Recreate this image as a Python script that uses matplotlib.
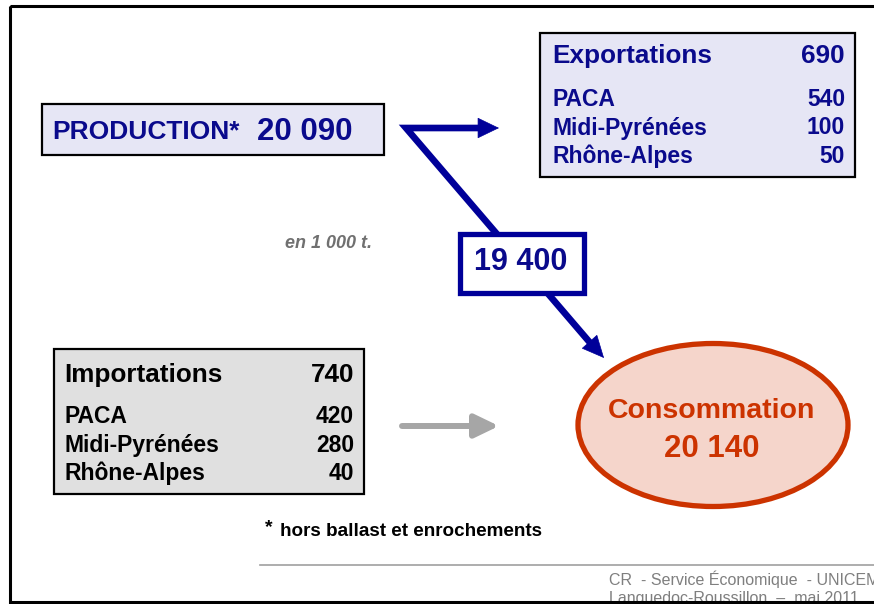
import matplotlib
matplotlib.use("Agg")
import matplotlib.pyplot as plt
from matplotlib.patches import Rectangle, Ellipse, FancyArrowPatch
from matplotlib.lines import Line2D

plt.rcParams['font.family'] = ['Liberation Sans', 'DejaVu Sans']

# ---- data (en 1 000 t.) ----
production = 20090
flow_internal = 19400
consumption = 20140
export_total = 690
export_regions = ["PACA", "Midi-Pyrénées", "Rhône-Alpes"]
export_values = [540, 100, 50]
import_total = 740
import_regions = ["PACA", "Midi-Pyrénées", "Rhône-Alpes"]
import_values = [420, 280, 40]


def fmt(v):
    return f"{v:,}".replace(",", " ")


NAVY = "#000099"
TXT_BLUE = "#0A0A8C"
RED = "#CC3300"

fig = plt.figure(figsize=(8.74, 6.04), dpi=100)
ax = fig.add_axes([0, 0, 1, 1])
ax.set_xlim(0, 874)
ax.set_ylim(604, 0)
ax.axis("off")

# outer frame
ax.add_patch(Rectangle((10, 6), 880, 596, fill=False, ec="black", lw=2.2, zorder=10))

# PRODUCTION box
ax.add_patch(Rectangle((42, 104), 342, 51, fc="#E6E6F5", ec="black", lw=1.6, zorder=2))
ax.text(52, 139, "PRODUCTION*", color=TXT_BLUE, fontsize=19, fontweight="bold", zorder=3)
ax.text(257, 140, fmt(production), color=TXT_BLUE, fontsize=22.5, fontweight="bold", zorder=3)

# Export box
ax.add_patch(Rectangle((540, 33), 315, 144, fc="#E6E6F5", ec="black", lw=1.6, zorder=2))
ax.text(552, 63, "Exportations", color=TXT_BLUE, fontsize=18.8, fontweight="bold", zorder=3)
ax.text(845, 63, fmt(export_total), color=TXT_BLUE, fontsize=18.8, fontweight="bold", ha="right", zorder=3)
for i, (r, v) in enumerate(zip(export_regions, export_values)):
    y = 106 + i * 28.5
    ax.text(552, y, r, color=TXT_BLUE, fontsize=16.5, fontweight="bold", zorder=3)
    ax.text(845, y, fmt(v), color=TXT_BLUE, fontsize=16.5, fontweight="bold", ha="right", zorder=3)

# Import box
ax.add_patch(Rectangle((54, 349), 310, 145, fc="#E0E0E0", ec="black", lw=1.6, zorder=2))
ax.text(64, 382, "Importations", color="black", fontsize=18.8, fontweight="bold", zorder=3)
ax.text(354, 382, fmt(import_total), color="black", fontsize=18.8, fontweight="bold", ha="right", zorder=3)
for i, (r, v) in enumerate(zip(import_regions, import_values)):
    y = 423 + i * 28.7
    ax.text(64, y, r, color="black", fontsize=16.5, fontweight="bold", zorder=3)
    ax.text(354, y, fmt(v), color="black", fontsize=16.5, fontweight="bold", ha="right", zorder=3)

# navy arrows from production
ax.add_line(Line2D([482, 406, 592, ], [128, 128, 345], color=NAVY, lw=4.8,
                   solid_joinstyle="miter", solid_capstyle="butt", zorder=4))
ax.add_patch(FancyArrowPatch((470, 128), (499, 128), arrowstyle="-|>,head_length=1.45,head_width=0.7",
                             mutation_scale=10, color=NAVY, lw=0.5, shrinkA=0, shrinkB=0, zorder=4))
ax.add_patch(FancyArrowPatch((580, 331), (604, 358), arrowstyle="-|>,head_length=1.5,head_width=0.7",
                             mutation_scale=10, color=NAVY, lw=0.5, shrinkA=0, shrinkB=0, zorder=4))

# 19 400 box
ax.add_patch(Rectangle((460, 234), 124, 59, fc="white", ec=NAVY, lw=3.8, zorder=5))
ax.text(521, 270, fmt(flow_internal), color=TXT_BLUE, fontsize=22, fontweight="bold",
        ha="center", zorder=6)

# unit label
ax.text(285, 248, "en 1 000 t.", color="#707070", fontsize=13, fontweight="bold",
        fontstyle="italic", zorder=3)

# grey import arrow
ax.add_patch(FancyArrowPatch((402, 426), (499, 426), arrowstyle="-|>,head_length=1.45,head_width=0.7",
                             mutation_scale=10, color="#A6A6A6", lw=4.3, shrinkA=0, shrinkB=0, zorder=4))

# consumption ellipse
ax.add_patch(Ellipse((713, 425), 270, 163, fc="#F5D5CB", ec=RED, lw=3.8, zorder=2))
ax.text(712, 418, "Consommation", color=RED, fontsize=20.5, fontweight="bold", ha="center", zorder=3)
ax.text(712, 457, fmt(consumption), color=RED, fontsize=22.5, fontweight="bold", ha="center", zorder=3)

# footnote
ax.text(265, 532, "*", color="black", fontsize=14, fontweight="bold", zorder=3)
ax.text(280, 536, "hors ballast et enrochements", color="black", fontsize=13.6, fontweight="bold", zorder=3)

# footer (cut off by the frame, as in the original slide)
ax.add_line(Line2D([260, 874], [565, 565], color="#A0A0A0", lw=1.2, zorder=3))
ax.text(609, 585, "CR  - Service Économique  - UNICEM", color="#7F7F7F", fontsize=11.5, zorder=3)
ax.text(609, 603, "Languedoc-Roussillon  –  mai 2011", color="#7F7F7F", fontsize=11.5, zorder=3)

fig.savefig("out.png", dpi=100)
